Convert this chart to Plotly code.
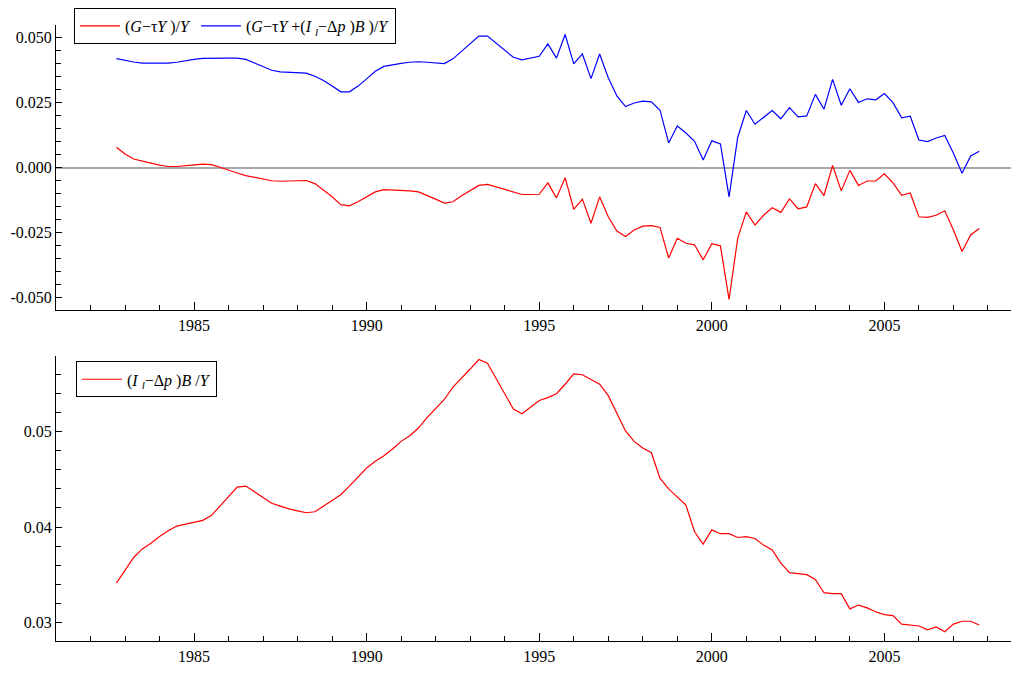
import plotly.graph_objects as go

# quarterly observations 1982Q4 .. 2007Q4
start_year = 1982.75
n_obs = 101
quarters = [start_year + 0.25 * k for k in range(n_obs)]

primary_deficit = [
    0.0078, 0.0052, 0.0033, 0.0024, 0.0017, 0.0009, 0.0004, 0.0004, 0.0008, 0.0010,
    0.0013, 0.0011, 0.0001, -0.0011, -0.0021, -0.0031, -0.0038, -0.0045, -0.0051, -0.0053,
    -0.0052, -0.0051, -0.0050, -0.0062, -0.0088, -0.0113, -0.0143, -0.0148, -0.0132, -0.0113,
    -0.0094, -0.0085, -0.0086, -0.0087, -0.0090, -0.0094, -0.0107, -0.0122, -0.0137, -0.0132,
    -0.0109, -0.0088, -0.0069, -0.0065, -0.0075, -0.0085, -0.0097, -0.0104, -0.0104, -0.0103,
    -0.0059, -0.0117, -0.0039, -0.0161, -0.0122, -0.0215, -0.0113, -0.0190, -0.0245, -0.0266,
    -0.0241, -0.0226, -0.0224, -0.0231, -0.0349, -0.0273, -0.0292, -0.0298, -0.0356, -0.0294,
    -0.0302, -0.0509, -0.0273, -0.0171, -0.0222, -0.0184, -0.0155, -0.0173, -0.0121, -0.0159,
    -0.0152, -0.0062, -0.0108, 0.0008, -0.0090, -0.0011, -0.0069, -0.0052, -0.0052, -0.0024,
    -0.0059, -0.0107, -0.0098, -0.0190, -0.0192, -0.0184, -0.0167, -0.0241, -0.0324, -0.0260,
    -0.0235,
]

total_deficit = [
    0.0420, 0.0413, 0.0407, 0.0403, 0.0403, 0.0403, 0.0403, 0.0406, 0.0412, 0.0417,
    0.0421, 0.0422, 0.0422, 0.0422, 0.0422, 0.0417, 0.0403, 0.0388, 0.0375, 0.0369,
    0.0367, 0.0366, 0.0364, 0.0352, 0.0336, 0.0314, 0.0292, 0.0292, 0.0314, 0.0342,
    0.0371, 0.0390, 0.0397, 0.0402, 0.0406, 0.0408, 0.0406, 0.0403, 0.0401, 0.0419,
    0.0448, 0.0477, 0.0507, 0.0507, 0.0480, 0.0452, 0.0425, 0.0415, 0.0421, 0.0429,
    0.0477, 0.0422, 0.0513, 0.0400, 0.0438, 0.0343, 0.0438, 0.0346, 0.0276, 0.0235,
    0.0249, 0.0256, 0.0253, 0.0221, 0.0095, 0.0160, 0.0133, 0.0101, 0.0029, 0.0103,
    0.0091, -0.0113, 0.0116, 0.0220, 0.0167, 0.0195, 0.0220, 0.0188, 0.0231, 0.0195,
    0.0199, 0.0282, 0.0225, 0.0340, 0.0240, 0.0304, 0.0251, 0.0265, 0.0261, 0.0285,
    0.0250, 0.0192, 0.0198, 0.0106, 0.0100, 0.0114, 0.0124, 0.0055, -0.0022, 0.0045,
    0.0063,
]

interest_burden = [
    0.0341, 0.0354, 0.0368, 0.0377, 0.0383, 0.0390, 0.0396, 0.0401, 0.0403, 0.0405,
    0.0407, 0.0412, 0.0422, 0.0432, 0.0442, 0.0443, 0.0437, 0.0431, 0.0425, 0.0422,
    0.0419, 0.0417, 0.0415, 0.0416, 0.0422, 0.0428, 0.0434, 0.0443, 0.0452, 0.0462,
    0.0469, 0.0475, 0.0482, 0.0490, 0.0496, 0.0504, 0.0515, 0.0525, 0.0534, 0.0547,
    0.0556, 0.0566, 0.0576, 0.0572, 0.0556, 0.0540, 0.0524, 0.0519, 0.0526, 0.0533,
    0.0536, 0.0540, 0.0550, 0.0561, 0.0560, 0.0555, 0.0550, 0.0538, 0.0519, 0.0501,
    0.0490, 0.0483, 0.0478, 0.0451, 0.0440, 0.0432, 0.0423, 0.0395, 0.0382, 0.0397,
    0.0393, 0.0393, 0.0389, 0.0390, 0.0388, 0.0381, 0.0376, 0.0362, 0.0352, 0.0351,
    0.0350, 0.0345, 0.0331, 0.0330, 0.0330, 0.0314, 0.0318, 0.0315, 0.0311, 0.0308,
    0.0307, 0.0298, 0.0297, 0.0296, 0.0292, 0.0295, 0.0290, 0.0298, 0.0301, 0.0301,
    0.0297,
]

x_tickvals = [1985, 1990, 1995, 2000, 2005]
x_ticktext = ["1985", "1990", "1995", "2000", "2005"]
top_y_tickvals = [0.05, 0.025, 0.0, -0.025, -0.05]
top_y_ticktext = ["0.050", "0.025", "0.000", "-0.025", "-0.050"]
bot_y_tickvals = [0.03, 0.04, 0.05]
bot_y_ticktext = ["0.03", "0.04", "0.05"]

name_primary = "(<i>G</i>−τ<i>Y</i> )/<i>Y</i>"
name_total = "(<i>G</i>−τ<i>Y</i> +(<i>I</i> <sub><i>l</i></sub>−Δ<i>p</i> )<i>B</i> )/<i>Y</i>"
name_interest = "(<i>I</i> <sub><i>l</i></sub>−Δ<i>p</i> )<i>B</i> /<i>Y</i>"

FONT = "Liberation Serif"
OFF = 8                      # page body margin of the html page
W, H = 1019 - OFF, 673 - OFF
ML = 56 - OFF

fig = go.Figure()
fig.add_trace(go.Scatter(x=quarters, y=primary_deficit, mode="lines", name=name_primary,
                         line=dict(color="#ff0000", width=1.2), xaxis="x", yaxis="y", legend="legend"))
fig.add_trace(go.Scatter(x=quarters, y=total_deficit, mode="lines", name=name_total,
                         line=dict(color="#0000ff", width=1.2), xaxis="x", yaxis="y", legend="legend"))
fig.add_trace(go.Scatter(x=quarters, y=interest_burden, mode="lines", name=name_interest,
                         line=dict(color="#ff0000", width=1.2), xaxis="x2", yaxis="y2", legend="legend2"))

def py(px):
    """reference-screen pixel row -> paper fraction"""
    return (H - (px - OFF)) / H

def pxx(px):
    """reference-screen pixel column -> paper fraction"""
    return (px - OFF - ML) / (W - ML)

common_x = dict(
    range=[1981.0, 2008.9], showgrid=False, zeroline=False,
    showline=True, linecolor="black", linewidth=1,
    tickmode="array", tickvals=x_tickvals, ticktext=x_ticktext,
    ticks="inside", ticklen=8, tickcolor="black", tickwidth=1,
    minor=dict(tick0=1981, dtick=1, ticks="inside", ticklen=5, tickcolor="black", tickwidth=1, showgrid=False),
    tickfont=dict(family=FONT, size=16, color="black"),
    ticklabelstandoff=1,
)

fig.update_layout(
    width=W, height=H,
    margin=dict(l=ML, r=0, t=0, b=0),
    paper_bgcolor="white", plot_bgcolor="white",
    showlegend=True,
    xaxis=dict(domain=[0, 1], anchor="y", **common_x),
    yaxis=dict(
        domain=[py(307.4), py(20.0)], anchor="x",
        range=[-0.055, 0.055], showgrid=False,
        zeroline=True, zerolinecolor="#a8a8a8", zerolinewidth=1.5,
        showline=True, linecolor="black", linewidth=1,
        tickmode="array", tickvals=top_y_tickvals, ticktext=top_y_ticktext,
        ticks="inside", ticklen=6, tickcolor="black",
        minor=dict(tick0=0, dtick=0.005, ticks="inside", ticklen=5, tickcolor="black", showgrid=False),
        tickfont=dict(family=FONT, size=16, color="black"),
    ),
    xaxis2=dict(domain=[0, 1], anchor="y2", **common_x),
    yaxis2=dict(
        domain=[py(641.0), py(353.3)], anchor="x2",
        range=[0.028, 0.058], showgrid=False, zeroline=False,
        showline=True, linecolor="black", linewidth=1,
        tickmode="array", tickvals=bot_y_tickvals, ticktext=bot_y_ticktext,
        ticks="inside", ticklen=6, tickcolor="black",
        minor=dict(tick0=0, dtick=0.002, ticks="inside", ticklen=5, tickcolor="black", showgrid=False),
        tickfont=dict(family=FONT, size=16, color="black"),
    ),
    legend=dict(
        x=pxx(74), y=py(3), xanchor="left", yanchor="top",
        orientation="h", bgcolor="white", bordercolor="black", borderwidth=1,
        font=dict(family=FONT, size=16, color="black"), itemwidth=40,
    ),
    legend2=dict(
        x=pxx(76), y=py(359), xanchor="left", yanchor="top",
        orientation="h", bgcolor="white", bordercolor="black", borderwidth=1,
        font=dict(family=FONT, size=16, color="black"), itemwidth=40,
    ),
)

fig.write_html("out.html")
